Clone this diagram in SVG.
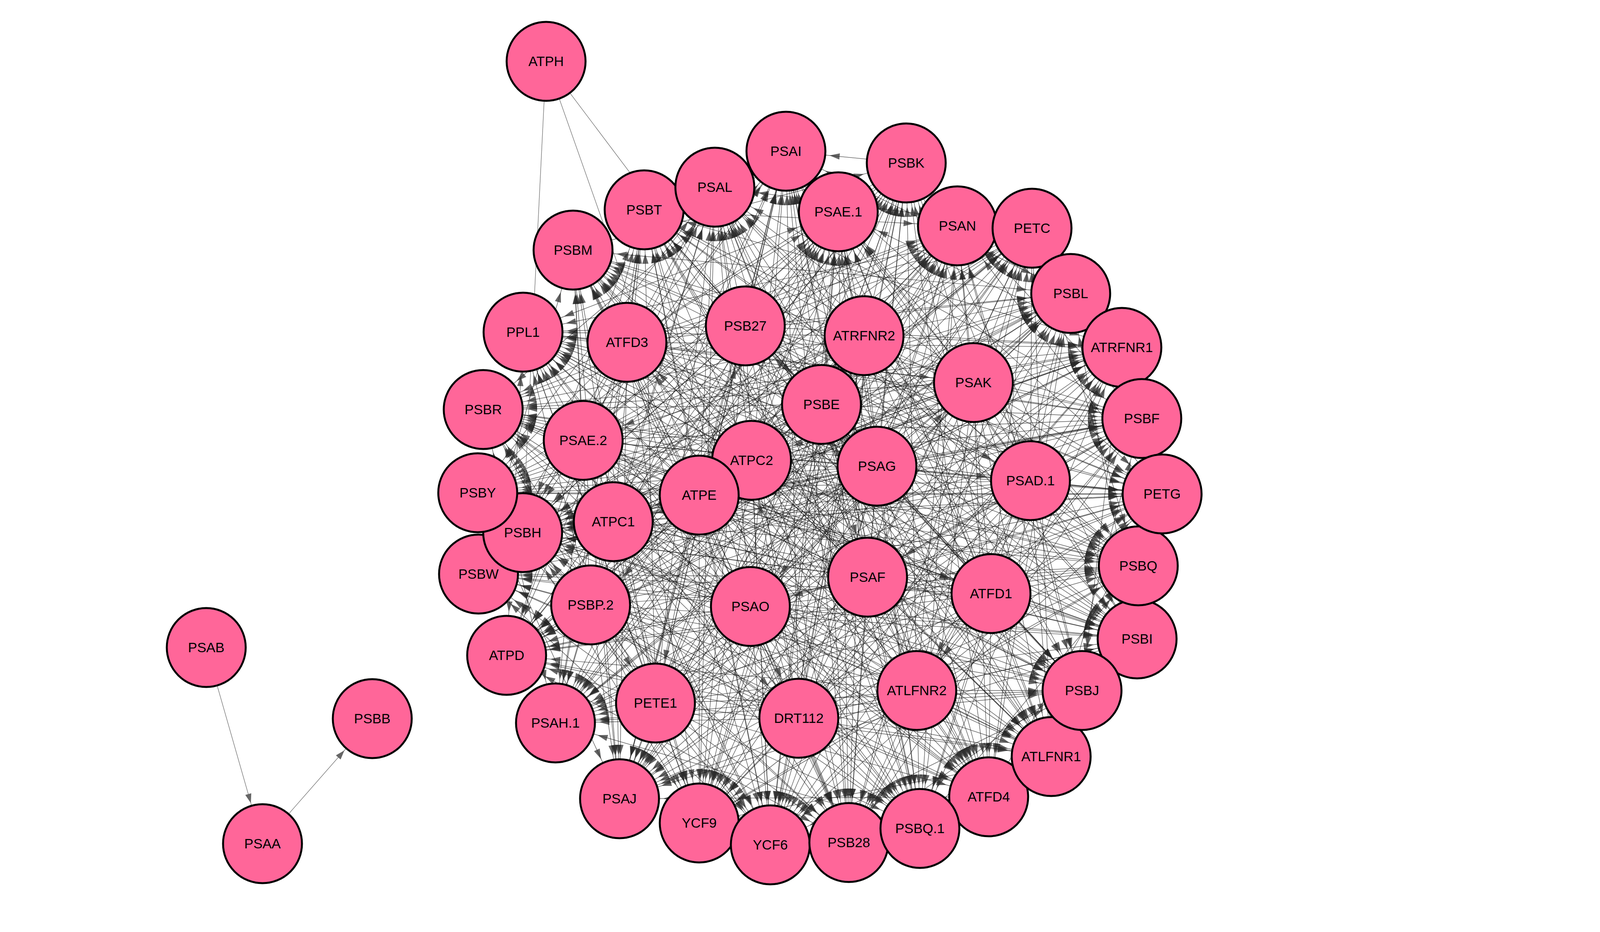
<svg xmlns="http://www.w3.org/2000/svg" width="4385" height="2385" viewBox="0 0 4385 2385">
<style>
.n circle{fill:#FF6699;stroke:#000;stroke-width:5}
.n text{font-family:"Liberation Sans",Arial,Helvetica,sans-serif;font-size:35px;text-anchor:middle;fill:#000}
#edges path{fill:none;stroke:#111;stroke-width:1.4;stroke-opacity:.68;marker-end:url(#a)}
#edges path.b{marker-start:url(#s)}
#edges path.u{marker-end:none;stroke:#777;stroke-opacity:1}
#edges path.g{stroke:#777;stroke-opacity:1;marker-end:url(#g)}
</style>
<defs>
<marker id="a" markerUnits="userSpaceOnUse" orient="auto" refX="112" refY="0" markerWidth="1" markerHeight="1" style="overflow:visible"><path d="M-26 -8L0 0L-26 8Z" fill="#2b2b2b" fill-opacity=".72"/></marker>
<marker id="s" markerUnits="userSpaceOnUse" orient="auto-start-reverse" refX="112" refY="0" markerWidth="1" markerHeight="1" style="overflow:visible"><path d="M-26 -8L0 0L-26 8Z" fill="#2b2b2b" fill-opacity=".72"/></marker>
<marker id="g" markerUnits="userSpaceOnUse" orient="auto" refX="108" refY="0" markerWidth="1" markerHeight="1" style="overflow:visible"><path d="M-24 -8L0 0L-24 8Z" fill="#666"/></marker>
</defs>
<rect width="4385" height="2385" fill="#fff"/>
<g id="edges">
<path d="M1908 834 1649 537"/><path d="M2212 859 1649 537"/><path d="M2103 1035 1649 537"/><path d="M1493 1127 1649 537"/><path d="M2245 1193 1649 537"/><path d="M2638 1230 1649 537"/><path d="M1570 1335 1649 537"/><path d="M2221 1477 1649 537"/><path d="M1512 1548 1649 537"/><path d="M1921 1552 1649 537"/><path d="M1678 1799 1649 537"/><path d="M2045 1838 1649 537"/>
<path d="M1908 834 2146 542"/><path d="M2212 859 2146 542"/><path d="M2103 1035 2146 542"/><path d="M1493 1127 2146 542"/><path d="M2245 1193 2146 542"/><path d="M2638 1230 2146 542"/><path d="M1570 1335 2146 542"/><path d="M2221 1477 2146 542"/><path d="M1512 1548 2146 542"/><path d="M1921 1552 2146 542"/><path d="M1678 1799 2146 542"/><path d="M2045 1838 2146 542"/>
<path d="M1908 834 2642 584"/><path d="M2212 859 2642 584"/><path d="M2103 1035 2642 584"/><path d="M1493 1127 2642 584"/><path d="M2245 1193 2642 584"/><path d="M2638 1230 2642 584"/><path d="M1570 1335 2642 584"/><path d="M2221 1477 2642 584"/><path d="M1512 1548 2642 584"/><path d="M1921 1552 2642 584"/><path d="M1678 1799 2642 584"/><path d="M2045 1838 2642 584"/>
<path d="M1908 834 2923 1071"/><path d="M2212 859 2923 1071"/><path d="M2103 1035 2923 1071"/><path d="M1493 1127 2923 1071"/><path d="M2245 1193 2923 1071"/><path d="M2638 1230 2923 1071"/><path d="M1570 1335 2923 1071"/><path d="M2221 1477 2923 1071"/><path d="M1512 1548 2923 1071"/><path d="M1921 1552 2923 1071"/><path d="M1678 1799 2923 1071"/><path d="M2045 1838 2923 1071"/>
<path d="M1908 834 2911 1635"/><path d="M2212 859 2911 1635"/><path d="M2103 1035 2911 1635"/><path d="M1493 1127 2911 1635"/><path d="M2245 1193 2911 1635"/><path d="M2638 1230 2911 1635"/><path d="M1570 1335 2911 1635"/><path d="M2221 1477 2911 1635"/><path d="M1512 1548 2911 1635"/><path d="M1921 1552 2911 1635"/><path d="M1678 1799 2911 1635"/><path d="M2045 1838 2911 1635"/>
<path d="M1908 834 2531 2039"/><path d="M2212 859 2531 2039"/><path d="M2103 1035 2531 2039"/><path d="M1493 1127 2531 2039"/><path d="M2245 1193 2531 2039"/><path d="M2638 1230 2531 2039"/><path d="M1570 1335 2531 2039"/><path d="M2221 1477 2531 2039"/><path d="M1512 1548 2531 2039"/><path d="M1921 1552 2531 2039"/><path d="M1678 1799 2531 2039"/><path d="M2045 1838 2531 2039"/>
<path d="M1908 834 1972 2162"/><path d="M2212 859 1972 2162"/><path d="M2103 1035 1972 2162"/><path d="M1493 1127 1972 2162"/><path d="M2245 1193 1972 2162"/><path d="M2638 1230 1972 2162"/><path d="M1570 1335 1972 2162"/><path d="M2221 1477 1972 2162"/><path d="M1512 1548 1972 2162"/><path d="M1921 1552 1972 2162"/><path d="M1678 1799 1972 2162"/><path d="M2045 1838 1972 2162"/>
<path d="M1908 834 1422 1850"/><path d="M2212 859 1422 1850"/><path d="M2103 1035 1422 1850"/><path d="M1493 1127 1422 1850"/><path d="M2245 1193 1422 1850"/><path d="M2638 1230 1422 1850"/><path d="M1570 1335 1422 1850"/><path d="M2221 1477 1422 1850"/><path d="M1512 1548 1422 1850"/><path d="M1921 1552 1422 1850"/><path d="M1678 1799 1422 1850"/><path d="M2045 1838 1422 1850"/>
<path d="M1908 834 1338 1363"/><path d="M2212 859 1338 1363"/><path d="M2103 1035 1338 1363"/><path d="M1493 1127 1338 1363"/><path d="M2245 1193 1338 1363"/><path d="M2638 1230 1338 1363"/><path d="M1570 1335 1338 1363"/><path d="M2221 1477 1338 1363"/><path d="M1512 1548 1338 1363"/><path d="M1921 1552 1338 1363"/><path d="M1678 1799 1338 1363"/><path d="M2045 1838 1338 1363"/>
<path d="M1908 834 1339 850"/><path d="M2212 859 1339 850"/><path d="M2103 1035 1339 850"/><path d="M1493 1127 1339 850"/><path d="M2245 1193 1339 850"/><path d="M2638 1230 1339 850"/><path d="M1570 1335 1339 850"/><path d="M2221 1477 1339 850"/><path d="M1512 1548 1339 850"/><path d="M1921 1552 1339 850"/><path d="M1678 1799 1339 850"/><path d="M2045 1838 1339 850"/>
<path d="M1605 876 1830 479"/><path d="M1908 834 1830 479"/><path d="M2492 979 1830 479"/><path d="M2103 1035 1830 479"/><path d="M1924 1178 1830 479"/><path d="M2245 1193 1830 479"/><path d="M1790 1267 1830 479"/><path d="M1570 1335 1830 479"/><path d="M2537 1519 1830 479"/><path d="M1512 1548 1830 479"/><path d="M2347 1767 1830 479"/><path d="M1678 1799 1830 479"/>
<path d="M1605 876 2320 417"/><path d="M1908 834 2320 417"/><path d="M2492 979 2320 417"/><path d="M2103 1035 2320 417"/><path d="M1924 1178 2320 417"/><path d="M2245 1193 2320 417"/><path d="M1790 1267 2320 417"/><path d="M1570 1335 2320 417"/><path d="M2537 1519 2320 417"/><path d="M1512 1548 2320 417"/><path d="M2347 1767 2320 417"/><path d="M1678 1799 2320 417"/>
<path d="M1605 876 2741 751"/><path d="M1908 834 2741 751"/><path d="M2492 979 2741 751"/><path d="M2103 1035 2741 751"/><path d="M1924 1178 2741 751"/><path d="M2245 1193 2741 751"/><path d="M1790 1267 2741 751"/><path d="M1570 1335 2741 751"/><path d="M2537 1519 2741 751"/><path d="M1512 1548 2741 751"/><path d="M2347 1767 2741 751"/><path d="M1678 1799 2741 751"/>
<path d="M1605 876 2975 1264"/><path d="M1908 834 2975 1264"/><path d="M2492 979 2975 1264"/><path d="M2103 1035 2975 1264"/><path d="M1924 1178 2975 1264"/><path d="M2245 1193 2975 1264"/><path d="M1790 1267 2975 1264"/><path d="M1570 1335 2975 1264"/><path d="M2537 1519 2975 1264"/><path d="M1512 1548 2975 1264"/><path d="M2347 1767 2975 1264"/><path d="M1678 1799 2975 1264"/>
<path d="M1605 876 2770 1767"/><path d="M1908 834 2770 1767"/><path d="M2492 979 2770 1767"/><path d="M2103 1035 2770 1767"/><path d="M1924 1178 2770 1767"/><path d="M2245 1193 2770 1767"/><path d="M1790 1267 2770 1767"/><path d="M1570 1335 2770 1767"/><path d="M2537 1519 2770 1767"/><path d="M1512 1548 2770 1767"/><path d="M2347 1767 2770 1767"/><path d="M1678 1799 2770 1767"/>
<path d="M1605 876 2355 2120"/><path d="M1908 834 2355 2120"/><path d="M2492 979 2355 2120"/><path d="M2103 1035 2355 2120"/><path d="M1924 1178 2355 2120"/><path d="M2245 1193 2355 2120"/><path d="M1790 1267 2355 2120"/><path d="M1570 1335 2355 2120"/><path d="M2537 1519 2355 2120"/><path d="M1512 1548 2355 2120"/><path d="M2347 1767 2355 2120"/><path d="M1678 1799 2355 2120"/>
<path d="M1605 876 1790 2106"/><path d="M1908 834 1790 2106"/><path d="M2492 979 1790 2106"/><path d="M2103 1035 1790 2106"/><path d="M1924 1178 1790 2106"/><path d="M2245 1193 1790 2106"/><path d="M1790 1267 1790 2106"/><path d="M1570 1335 1790 2106"/><path d="M2537 1519 1790 2106"/><path d="M1512 1548 1790 2106"/><path d="M2347 1767 1790 2106"/><path d="M1678 1799 1790 2106"/>
<path d="M1605 876 1297 1677"/><path d="M1908 834 1297 1677"/><path d="M2492 979 1297 1677"/><path d="M2103 1035 1297 1677"/><path d="M1924 1178 1297 1677"/><path d="M2245 1193 1297 1677"/><path d="M1790 1267 1297 1677"/><path d="M1570 1335 1297 1677"/><path d="M2537 1519 1297 1677"/><path d="M1512 1548 1297 1677"/><path d="M2347 1767 1297 1677"/><path d="M1678 1799 1297 1677"/>
<path d="M1605 876 1223 1261"/><path d="M1908 834 1223 1261"/><path d="M2492 979 1223 1261"/><path d="M2103 1035 1223 1261"/><path d="M1924 1178 1223 1261"/><path d="M2245 1193 1223 1261"/><path d="M1790 1267 1223 1261"/><path d="M1570 1335 1223 1261"/><path d="M2537 1519 1223 1261"/><path d="M1512 1548 1223 1261"/><path d="M2347 1767 1223 1261"/><path d="M1678 1799 1223 1261"/>
<path d="M1605 876 1467 640"/><path d="M1908 834 1467 640"/><path d="M2492 979 1467 640"/><path d="M2103 1035 1467 640"/><path d="M1924 1178 1467 640"/><path d="M2245 1193 1467 640"/><path d="M1790 1267 1467 640"/><path d="M1570 1335 1467 640"/><path d="M2537 1519 1467 640"/><path d="M1512 1548 1467 640"/><path d="M2347 1767 1467 640"/><path d="M1678 1799 1467 640"/>
<path d="M1605 876 2012 387"/><path d="M2212 859 2012 387"/><path d="M2492 979 2012 387"/><path d="M1493 1127 2012 387"/><path d="M1924 1178 2012 387"/><path d="M2638 1230 2012 387"/><path d="M1790 1267 2012 387"/><path d="M2221 1477 2012 387"/><path d="M2537 1519 2012 387"/><path d="M1921 1552 2012 387"/><path d="M2347 1767 2012 387"/><path d="M2045 1838 2012 387"/>
<path d="M1605 876 2451 578"/><path d="M2212 859 2451 578"/><path d="M2492 979 2451 578"/><path d="M1493 1127 2451 578"/><path d="M1924 1178 2451 578"/><path d="M2638 1230 2451 578"/><path d="M1790 1267 2451 578"/><path d="M2221 1477 2451 578"/><path d="M2537 1519 2451 578"/><path d="M1921 1552 2451 578"/><path d="M2347 1767 2451 578"/><path d="M2045 1838 2451 578"/>
<path d="M1605 876 2872 889"/><path d="M2212 859 2872 889"/><path d="M2492 979 2872 889"/><path d="M1493 1127 2872 889"/><path d="M1924 1178 2872 889"/><path d="M2638 1230 2872 889"/><path d="M1790 1267 2872 889"/><path d="M2221 1477 2872 889"/><path d="M2537 1519 2872 889"/><path d="M1921 1552 2872 889"/><path d="M2347 1767 2872 889"/><path d="M2045 1838 2872 889"/>
<path d="M1605 876 2914 1448"/><path d="M2212 859 2914 1448"/><path d="M2492 979 2914 1448"/><path d="M1493 1127 2914 1448"/><path d="M1924 1178 2914 1448"/><path d="M2638 1230 2914 1448"/><path d="M1790 1267 2914 1448"/><path d="M2221 1477 2914 1448"/><path d="M2537 1519 2914 1448"/><path d="M1921 1552 2914 1448"/><path d="M2347 1767 2914 1448"/><path d="M2045 1838 2914 1448"/>
<path d="M1605 876 2691 1936"/><path d="M2212 859 2691 1936"/><path d="M2492 979 2691 1936"/><path d="M1493 1127 2691 1936"/><path d="M1924 1178 2691 1936"/><path d="M2638 1230 2691 1936"/><path d="M1790 1267 2691 1936"/><path d="M2221 1477 2691 1936"/><path d="M2537 1519 2691 1936"/><path d="M1921 1552 2691 1936"/><path d="M2347 1767 2691 1936"/><path d="M2045 1838 2691 1936"/>
<path d="M1605 876 2173 2156"/><path d="M2212 859 2173 2156"/><path d="M2492 979 2173 2156"/><path d="M1493 1127 2173 2156"/><path d="M1924 1178 2173 2156"/><path d="M2638 1230 2173 2156"/><path d="M1790 1267 2173 2156"/><path d="M2221 1477 2173 2156"/><path d="M2537 1519 2173 2156"/><path d="M1921 1552 2173 2156"/><path d="M2347 1767 2173 2156"/><path d="M2045 1838 2173 2156"/>
<path d="M1605 876 1586 2044"/><path d="M2212 859 1586 2044"/><path d="M2492 979 1586 2044"/><path d="M1493 1127 1586 2044"/><path d="M1924 1178 1586 2044"/><path d="M2638 1230 1586 2044"/><path d="M1790 1267 1586 2044"/><path d="M2221 1477 1586 2044"/><path d="M2537 1519 1586 2044"/><path d="M1921 1552 1586 2044"/><path d="M2347 1767 1586 2044"/><path d="M2045 1838 1586 2044"/>
<path d="M1605 876 1225 1469"/><path d="M2212 859 1225 1469"/><path d="M2492 979 1225 1469"/><path d="M1493 1127 1225 1469"/><path d="M1924 1178 1225 1469"/><path d="M2638 1230 1225 1469"/><path d="M1790 1267 1225 1469"/><path d="M2221 1477 1225 1469"/><path d="M2537 1519 1225 1469"/><path d="M1921 1552 1225 1469"/><path d="M2347 1767 1225 1469"/><path d="M2045 1838 1225 1469"/>
<path d="M1605 876 1237 1048"/><path d="M2212 859 1237 1048"/><path d="M2492 979 1237 1048"/><path d="M1493 1127 1237 1048"/><path d="M1924 1178 1237 1048"/><path d="M2638 1230 1237 1048"/><path d="M1790 1267 1237 1048"/><path d="M2221 1477 1237 1048"/><path d="M2537 1519 1237 1048"/><path d="M1921 1552 1237 1048"/><path d="M2347 1767 1237 1048"/><path d="M2045 1838 1237 1048"/>
<path d="M1605 876 1649 537"/><path d="M2492 979 1649 537"/><path d="M1924 1178 1649 537"/><path d="M1790 1267 1649 537"/><path d="M2537 1519 1649 537"/><path d="M2347 1767 1649 537"/>
<path d="M1605 876 2146 542"/><path d="M2492 979 2146 542"/><path d="M1924 1178 2146 542"/><path d="M1790 1267 2146 542"/><path d="M2537 1519 2146 542"/><path d="M2347 1767 2146 542"/>
<path d="M1605 876 2642 584"/><path d="M2492 979 2642 584"/><path d="M1924 1178 2642 584"/><path d="M1790 1267 2642 584"/><path d="M2537 1519 2642 584"/><path d="M2347 1767 2642 584"/>
<path d="M1605 876 2923 1071"/><path d="M2492 979 2923 1071"/><path d="M1924 1178 2923 1071"/><path d="M1790 1267 2923 1071"/><path d="M2537 1519 2923 1071"/><path d="M2347 1767 2923 1071"/>
<path d="M1605 876 2911 1635"/><path d="M2492 979 2911 1635"/><path d="M1924 1178 2911 1635"/><path d="M1790 1267 2911 1635"/><path d="M2537 1519 2911 1635"/><path d="M2347 1767 2911 1635"/>
<path d="M1605 876 2531 2039"/><path d="M2492 979 2531 2039"/><path d="M1924 1178 2531 2039"/><path d="M1790 1267 2531 2039"/><path d="M2537 1519 2531 2039"/><path d="M2347 1767 2531 2039"/>
<path d="M1605 876 1972 2162"/><path d="M2492 979 1972 2162"/><path d="M1924 1178 1972 2162"/><path d="M1790 1267 1972 2162"/><path d="M2537 1519 1972 2162"/><path d="M2347 1767 1972 2162"/>
<path d="M1605 876 1422 1850"/><path d="M2492 979 1422 1850"/><path d="M1924 1178 1422 1850"/><path d="M1790 1267 1422 1850"/><path d="M2537 1519 1422 1850"/><path d="M2347 1767 1422 1850"/>
<path d="M1605 876 1338 1363"/><path d="M2492 979 1338 1363"/><path d="M1924 1178 1338 1363"/><path d="M1790 1267 1338 1363"/><path d="M2537 1519 1338 1363"/><path d="M2347 1767 1338 1363"/>
<path d="M1605 876 1339 850"/><path d="M2492 979 1339 850"/><path d="M1924 1178 1339 850"/><path d="M1790 1267 1339 850"/><path d="M2537 1519 1339 850"/><path d="M2347 1767 1339 850"/>
<path d="M2212 859 1830 479"/><path d="M1493 1127 1830 479"/><path d="M2638 1230 1830 479"/><path d="M2221 1477 1830 479"/><path d="M1921 1552 1830 479"/><path d="M2045 1838 1830 479"/>
<path d="M2212 859 2320 417"/><path d="M1493 1127 2320 417"/><path d="M2638 1230 2320 417"/><path d="M2221 1477 2320 417"/><path d="M1921 1552 2320 417"/><path d="M2045 1838 2320 417"/>
<path d="M2212 859 2741 751"/><path d="M1493 1127 2741 751"/><path d="M2638 1230 2741 751"/><path d="M2221 1477 2741 751"/><path d="M1921 1552 2741 751"/><path d="M2045 1838 2741 751"/>
<path d="M2212 859 2975 1264"/><path d="M1493 1127 2975 1264"/><path d="M2638 1230 2975 1264"/><path d="M2221 1477 2975 1264"/><path d="M1921 1552 2975 1264"/><path d="M2045 1838 2975 1264"/>
<path d="M2212 859 2770 1767"/><path d="M1493 1127 2770 1767"/><path d="M2638 1230 2770 1767"/><path d="M2221 1477 2770 1767"/><path d="M1921 1552 2770 1767"/><path d="M2045 1838 2770 1767"/>
<path d="M2212 859 2355 2120"/><path d="M1493 1127 2355 2120"/><path d="M2638 1230 2355 2120"/><path d="M2221 1477 2355 2120"/><path d="M1921 1552 2355 2120"/><path d="M2045 1838 2355 2120"/>
<path d="M2212 859 1790 2106"/><path d="M1493 1127 1790 2106"/><path d="M2638 1230 1790 2106"/><path d="M2221 1477 1790 2106"/><path d="M1921 1552 1790 2106"/><path d="M2045 1838 1790 2106"/>
<path d="M2212 859 1297 1677"/><path d="M1493 1127 1297 1677"/><path d="M2638 1230 1297 1677"/><path d="M2221 1477 1297 1677"/><path d="M1921 1552 1297 1677"/><path d="M2045 1838 1297 1677"/>
<path d="M2212 859 1223 1261"/><path d="M1493 1127 1223 1261"/><path d="M2638 1230 1223 1261"/><path d="M2221 1477 1223 1261"/><path d="M1921 1552 1223 1261"/><path d="M2045 1838 1223 1261"/>
<path d="M2212 859 1467 640"/><path d="M1493 1127 1467 640"/><path d="M2638 1230 1467 640"/><path d="M2221 1477 1467 640"/><path d="M1921 1552 1467 640"/><path d="M2045 1838 1467 640"/>
<path d="M1908 834 2012 387"/><path d="M2103 1035 2012 387"/><path d="M2245 1193 2012 387"/><path d="M1570 1335 2012 387"/><path d="M1512 1548 2012 387"/><path d="M1678 1799 2012 387"/>
<path d="M1908 834 2451 578"/><path d="M2103 1035 2451 578"/><path d="M2245 1193 2451 578"/><path d="M1570 1335 2451 578"/><path d="M1512 1548 2451 578"/><path d="M1678 1799 2451 578"/>
<path d="M1908 834 2872 889"/><path d="M2103 1035 2872 889"/><path d="M2245 1193 2872 889"/><path d="M1570 1335 2872 889"/><path d="M1512 1548 2872 889"/><path d="M1678 1799 2872 889"/>
<path d="M1908 834 2914 1448"/><path d="M2103 1035 2914 1448"/><path d="M2245 1193 2914 1448"/><path d="M1570 1335 2914 1448"/><path d="M1512 1548 2914 1448"/><path d="M1678 1799 2914 1448"/>
<path d="M1908 834 2691 1936"/><path d="M2103 1035 2691 1936"/><path d="M2245 1193 2691 1936"/><path d="M1570 1335 2691 1936"/><path d="M1512 1548 2691 1936"/><path d="M1678 1799 2691 1936"/>
<path d="M1908 834 2173 2156"/><path d="M2103 1035 2173 2156"/><path d="M2245 1193 2173 2156"/><path d="M1570 1335 2173 2156"/><path d="M1512 1548 2173 2156"/><path d="M1678 1799 2173 2156"/>
<path d="M1908 834 1586 2044"/><path d="M2103 1035 1586 2044"/><path d="M2245 1193 1586 2044"/><path d="M1570 1335 1586 2044"/><path d="M1512 1548 1586 2044"/><path d="M1678 1799 1586 2044"/>
<path d="M1908 834 1225 1469"/><path d="M2103 1035 1225 1469"/><path d="M2245 1193 1225 1469"/><path d="M1570 1335 1225 1469"/><path d="M1512 1548 1225 1469"/><path d="M1678 1799 1225 1469"/>
<path d="M1908 834 1237 1048"/><path d="M2103 1035 1237 1048"/><path d="M2245 1193 1237 1048"/><path d="M1570 1335 1237 1048"/><path d="M1512 1548 1237 1048"/><path d="M1678 1799 1237 1048"/>
<path class="b" d="M1649 537 2451 578"/><path class="b" d="M1830 479 2642 584"/><path class="b" d="M2012 387 2741 751"/><path class="b" d="M2146 542 2872 889"/><path class="b" d="M2320 417 2923 1071"/><path class="b" d="M2451 578 2975 1264"/><path class="b" d="M2642 584 2914 1448"/><path class="b" d="M2741 751 2911 1635"/><path class="b" d="M2872 889 2770 1767"/><path class="b" d="M2923 1071 2691 1936"/><path class="b" d="M2975 1264 2531 2039"/><path class="b" d="M2914 1448 2355 2120"/><path class="b" d="M2911 1635 2173 2156"/><path class="b" d="M2770 1767 1972 2162"/><path class="b" d="M2691 1936 1790 2106"/><path class="b" d="M2531 2039 1586 2044"/><path class="b" d="M2355 2120 1422 1850"/><path class="b" d="M2173 2156 1297 1677"/><path class="b" d="M1972 2162 1225 1469"/><path class="b" d="M1790 2106 1338 1363"/><path class="b" d="M1586 2044 1223 1261"/><path class="b" d="M1422 1850 1237 1048"/><path class="b" d="M1297 1677 1339 850"/><path class="b" d="M1225 1469 1467 640"/><path class="b" d="M1338 1363 1649 537"/><path class="b" d="M1223 1261 1830 479"/><path class="b" d="M1237 1048 2012 387"/><path class="b" d="M1339 850 2146 542"/><path class="b" d="M1467 640 2320 417"/>
<path class="b" d="M1649 537 2872 889"/><path class="b" d="M1830 479 2923 1071"/><path class="b" d="M2012 387 2975 1264"/><path class="b" d="M2146 542 2914 1448"/><path class="b" d="M2320 417 2911 1635"/><path class="b" d="M2451 578 2770 1767"/><path class="b" d="M2642 584 2691 1936"/><path class="b" d="M2741 751 2531 2039"/><path class="b" d="M2872 889 2355 2120"/><path class="b" d="M2923 1071 2173 2156"/><path class="b" d="M2975 1264 1972 2162"/><path class="b" d="M2914 1448 1790 2106"/><path class="b" d="M2911 1635 1586 2044"/><path class="b" d="M2770 1767 1422 1850"/><path class="b" d="M2691 1936 1297 1677"/><path class="b" d="M2531 2039 1225 1469"/><path class="b" d="M2355 2120 1338 1363"/><path class="b" d="M2173 2156 1223 1261"/><path class="b" d="M1972 2162 1237 1048"/><path class="b" d="M1790 2106 1339 850"/><path class="b" d="M1586 2044 1467 640"/><path class="b" d="M1422 1850 1649 537"/><path class="b" d="M1297 1677 1830 479"/><path class="b" d="M1225 1469 2012 387"/><path class="b" d="M1338 1363 2146 542"/><path class="b" d="M1223 1261 2320 417"/><path class="b" d="M1237 1048 2451 578"/><path class="b" d="M1339 850 2642 584"/><path class="b" d="M1467 640 2741 751"/>
<path class="b" d="M1649 537 2914 1448"/><path class="b" d="M1830 479 2911 1635"/><path class="b" d="M2012 387 2770 1767"/><path class="b" d="M2146 542 2691 1936"/><path class="b" d="M2320 417 2531 2039"/><path class="b" d="M2451 578 2355 2120"/><path class="b" d="M2642 584 2173 2156"/><path class="b" d="M2741 751 1972 2162"/><path class="b" d="M2872 889 1790 2106"/><path class="b" d="M2923 1071 1586 2044"/><path class="b" d="M2975 1264 1422 1850"/><path class="b" d="M2914 1448 1297 1677"/><path class="b" d="M2911 1635 1225 1469"/><path class="b" d="M2770 1767 1338 1363"/><path class="b" d="M2691 1936 1223 1261"/><path class="b" d="M2531 2039 1237 1048"/><path class="b" d="M2355 2120 1339 850"/><path class="b" d="M2173 2156 1467 640"/><path class="b" d="M1972 2162 1649 537"/><path class="b" d="M1790 2106 1830 479"/><path class="b" d="M1586 2044 2012 387"/><path class="b" d="M1422 1850 2146 542"/><path class="b" d="M1297 1677 2320 417"/><path class="b" d="M1225 1469 2451 578"/><path class="b" d="M1338 1363 2642 584"/><path class="b" d="M1223 1261 2741 751"/><path class="b" d="M1237 1048 2872 889"/><path class="b" d="M1339 850 2923 1071"/><path class="b" d="M1467 640 2975 1264"/>
<path class="b" d="M1649 537 2691 1936"/><path class="b" d="M1830 479 2531 2039"/><path class="b" d="M2012 387 2355 2120"/><path class="b" d="M2146 542 2173 2156"/><path class="b" d="M2320 417 1972 2162"/><path class="b" d="M2451 578 1790 2106"/><path class="b" d="M2642 584 1586 2044"/><path class="b" d="M2741 751 1422 1850"/><path class="b" d="M2872 889 1297 1677"/><path class="b" d="M2923 1071 1225 1469"/><path class="b" d="M2975 1264 1338 1363"/><path class="b" d="M2914 1448 1223 1261"/><path class="b" d="M2911 1635 1237 1048"/><path class="b" d="M2770 1767 1339 850"/><path class="b" d="M2691 1936 1467 640"/><path class="b" d="M2531 2039 1649 537"/><path class="b" d="M2355 2120 1830 479"/><path class="b" d="M2173 2156 2012 387"/><path class="b" d="M1972 2162 2146 542"/><path class="b" d="M1790 2106 2320 417"/><path class="b" d="M1586 2044 2451 578"/><path class="b" d="M1422 1850 2642 584"/><path class="b" d="M1297 1677 2741 751"/><path class="b" d="M1225 1469 2872 889"/><path class="b" d="M1338 1363 2923 1071"/><path class="b" d="M1223 1261 2975 1264"/><path class="b" d="M1237 1048 2914 1448"/><path class="b" d="M1339 850 2911 1635"/><path class="b" d="M1467 640 2770 1767"/>
<path d="M1605 876 2492 979"/><path d="M1908 834 2103 1035"/><path d="M2212 859 1493 1127"/><path d="M2492 979 1924 1178"/><path d="M2103 1035 2245 1193"/><path d="M1493 1127 2638 1230"/><path d="M2245 1193 1570 1335"/><path d="M2638 1230 2221 1477"/><path d="M1790 1267 2537 1519"/><path d="M2221 1477 1921 1552"/><path d="M2537 1519 2347 1767"/><path d="M1512 1548 1678 1799"/><path d="M1921 1552 2045 1838"/><path d="M2347 1767 1605 876"/><path d="M1678 1799 1908 834"/><path d="M2045 1838 2212 859"/>
<path d="M1605 876 2245 1193"/><path d="M1908 834 2638 1230"/><path d="M2212 859 1790 1267"/><path d="M2492 979 1570 1335"/><path d="M2103 1035 2221 1477"/><path d="M1493 1127 2537 1519"/><path d="M1924 1178 1512 1548"/><path d="M2245 1193 1921 1552"/><path d="M2638 1230 2347 1767"/><path d="M1790 1267 1678 1799"/><path d="M1570 1335 2045 1838"/><path d="M2221 1477 1605 876"/><path d="M2537 1519 1908 834"/><path d="M1512 1548 2212 859"/><path d="M1921 1552 2492 979"/><path d="M2347 1767 2103 1035"/><path d="M1678 1799 1493 1127"/><path d="M2045 1838 1924 1178"/>
<path d="M2320 417 2012 387"/>
<path class="u" d="M1398 157 1338 1363"/><path class="u" d="M1398 157 1790 1267"/><path class="u" d="M1398 157 1908 834"/>
<path class="g" d="M528 1657 672 2159"/><path class="g" d="M672 2159 953 1839"/>
</g>
<g id="n-PSBT" class="n"><circle cx="1649" cy="537" r="101"/><text x="1649" y="549">PSBT</text></g>
<g id="n-PSAL" class="n"><circle cx="1830" cy="479" r="101"/><text x="1830" y="491">PSAL</text></g>
<g id="n-PSAI" class="n"><circle cx="2012" cy="387" r="101"/><text x="2012" y="399">PSAI</text></g>
<g id="n-PSAE.1" class="n"><circle cx="2146" cy="542" r="101"/><text x="2146" y="554">PSAE.1</text></g>
<g id="n-PSBK" class="n"><circle cx="2320" cy="417" r="101"/><text x="2320" y="429">PSBK</text></g>
<g id="n-PSAN" class="n"><circle cx="2451" cy="578" r="101"/><text x="2451" y="590">PSAN</text></g>
<g id="n-PETC" class="n"><circle cx="2642" cy="584" r="101"/><text x="2642" y="596">PETC</text></g>
<g id="n-PSBL" class="n"><circle cx="2741" cy="751" r="101"/><text x="2741" y="763">PSBL</text></g>
<g id="n-ATRFNR1" class="n"><circle cx="2872" cy="889" r="101"/><text x="2872" y="901">ATRFNR1</text></g>
<g id="n-PSBF" class="n"><circle cx="2923" cy="1071" r="101"/><text x="2923" y="1083">PSBF</text></g>
<g id="n-PSBI" class="n"><circle cx="2911" cy="1635" r="101"/><text x="2911" y="1647">PSBI</text></g>
<g id="n-PSBQ" class="n"><circle cx="2914" cy="1448" r="101"/><text x="2914" y="1460">PSBQ</text></g>
<g id="n-PETG" class="n"><circle cx="2975" cy="1264" r="101"/><text x="2975" y="1276">PETG</text></g>
<g id="n-ATFD4" class="n"><circle cx="2531" cy="2039" r="101"/><text x="2531" y="2051">ATFD4</text></g>
<g id="n-ATLFNR1" class="n"><circle cx="2691" cy="1936" r="101"/><text x="2691" y="1948">ATLFNR1</text></g>
<g id="n-PSBJ" class="n"><circle cx="2770" cy="1767" r="101"/><text x="2770" y="1779">PSBJ</text></g>
<g id="n-YCF9" class="n"><circle cx="1790" cy="2106" r="101"/><text x="1790" y="2118">YCF9</text></g>
<g id="n-YCF6" class="n"><circle cx="1972" cy="2162" r="101"/><text x="1972" y="2174">YCF6</text></g>
<g id="n-PSB28" class="n"><circle cx="2173" cy="2156" r="101"/><text x="2173" y="2168">PSB28</text></g>
<g id="n-PSBQ.1" class="n"><circle cx="2355" cy="2120" r="101"/><text x="2355" y="2132">PSBQ.1</text></g>
<g id="n-PSAJ" class="n"><circle cx="1586" cy="2044" r="101"/><text x="1586" y="2056">PSAJ</text></g>
<g id="n-PSAH.1" class="n"><circle cx="1422" cy="1850" r="101"/><text x="1422" y="1862">PSAH.1</text></g>
<g id="n-ATPD" class="n"><circle cx="1297" cy="1677" r="101"/><text x="1297" y="1689">ATPD</text></g>
<g id="n-PSBW" class="n"><circle cx="1225" cy="1469" r="101"/><text x="1225" y="1481">PSBW</text></g>
<g id="n-PSBH" class="n"><circle cx="1338" cy="1363" r="101"/><text x="1338" y="1375">PSBH</text></g>
<g id="n-PSBY" class="n"><circle cx="1223" cy="1261" r="101"/><text x="1223" y="1273">PSBY</text></g>
<g id="n-PSBR" class="n"><circle cx="1237" cy="1048" r="101"/><text x="1237" y="1060">PSBR</text></g>
<g id="n-PPL1" class="n"><circle cx="1339" cy="850" r="101"/><text x="1339" y="862">PPL1</text></g>
<g id="n-PSBM" class="n"><circle cx="1467" cy="640" r="101"/><text x="1467" y="652">PSBM</text></g>
<g id="n-ATPH" class="n"><circle cx="1398" cy="157" r="101"/><text x="1398" y="169">ATPH</text></g>
<g id="n-ATFD3" class="n"><circle cx="1605" cy="876" r="101"/><text x="1605" y="888">ATFD3</text></g>
<g id="n-PSB27" class="n"><circle cx="1908" cy="834" r="101"/><text x="1908" y="846">PSB27</text></g>
<g id="n-ATRFNR2" class="n"><circle cx="2212" cy="859" r="101"/><text x="2212" y="871">ATRFNR2</text></g>
<g id="n-PSAK" class="n"><circle cx="2492" cy="979" r="101"/><text x="2492" y="991">PSAK</text></g>
<g id="n-PSBE" class="n"><circle cx="2103" cy="1035" r="101"/><text x="2103" y="1047">PSBE</text></g>
<g id="n-PSAE.2" class="n"><circle cx="1493" cy="1127" r="101"/><text x="1493" y="1139">PSAE.2</text></g>
<g id="n-ATPC2" class="n"><circle cx="1924" cy="1178" r="101"/><text x="1924" y="1190">ATPC2</text></g>
<g id="n-ATPE" class="n"><circle cx="1790" cy="1267" r="101"/><text x="1790" y="1279">ATPE</text></g>
<g id="n-PSAG" class="n"><circle cx="2245" cy="1193" r="101"/><text x="2245" y="1205">PSAG</text></g>
<g id="n-PSAD.1" class="n"><circle cx="2638" cy="1230" r="101"/><text x="2638" y="1242">PSAD.1</text></g>
<g id="n-ATPC1" class="n"><circle cx="1570" cy="1335" r="101"/><text x="1570" y="1347">ATPC1</text></g>
<g id="n-PSAF" class="n"><circle cx="2221" cy="1477" r="101"/><text x="2221" y="1489">PSAF</text></g>
<g id="n-ATFD1" class="n"><circle cx="2537" cy="1519" r="101"/><text x="2537" y="1531">ATFD1</text></g>
<g id="n-PSBP.2" class="n"><circle cx="1512" cy="1548" r="101"/><text x="1512" y="1560">PSBP.2</text></g>
<g id="n-PSAO" class="n"><circle cx="1921" cy="1552" r="101"/><text x="1921" y="1564">PSAO</text></g>
<g id="n-ATLFNR2" class="n"><circle cx="2347" cy="1767" r="101"/><text x="2347" y="1779">ATLFNR2</text></g>
<g id="n-PETE1" class="n"><circle cx="1678" cy="1799" r="101"/><text x="1678" y="1811">PETE1</text></g>
<g id="n-DRT112" class="n"><circle cx="2045" cy="1838" r="101"/><text x="2045" y="1850">DRT112</text></g>
<g id="n-PSAB" class="n"><circle cx="528" cy="1657" r="101"/><text x="528" y="1669">PSAB</text></g>
<g id="n-PSAA" class="n"><circle cx="672" cy="2159" r="101"/><text x="672" y="2171">PSAA</text></g>
<g id="n-PSBB" class="n"><circle cx="953" cy="1839" r="101"/><text x="953" y="1851">PSBB</text></g>
</svg>
